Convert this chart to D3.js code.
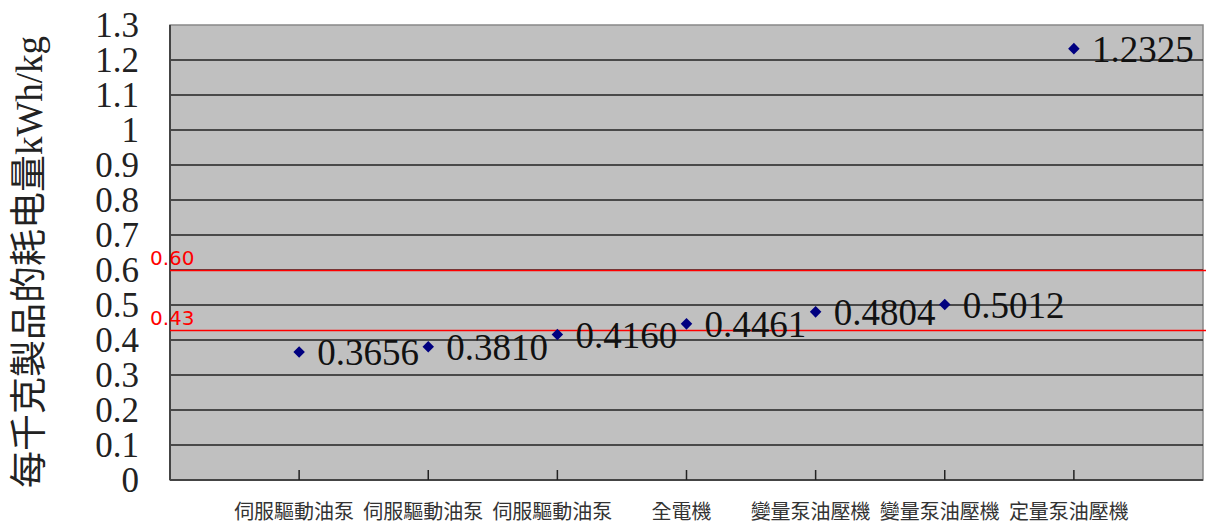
<!DOCTYPE html>
<html><head><meta charset="utf-8">
<script src="https://cdn.jsdelivr.net/npm/d3@7"></script>
<style>body{margin:0;background:#fff}svg{display:block}</style>
</head><body>
<script>
const categories = ["伺服驅動油泵","伺服驅動油泵","伺服驅動油泵","全電機","變量泵油壓機","變量泵油壓機","定量泵油壓機"];
const values = [0.3656, 0.3810, 0.4160, 0.4461, 0.4804, 0.5012, 1.2325];
const valueLabels = ["0.3656","0.3810","0.4160","0.4461","0.4804","0.5012","1.2325"];
const yTicks = [0,0.1,0.2,0.3,0.4,0.5,0.6,0.7,0.8,0.9,1,1.1,1.2,1.3];
const refLines = [0.60, 0.43];
const refLabels = ["0.60","0.43"];
const yTitle = "每千克製品的耗电量kWh/kg";

const W=1206,H=526;
const L=170,R=1203,T=25,B=480;
const svg=d3.select("body").append("svg").attr("width",W).attr("height",H);
const x=d3.scaleLinear().domain([0,categories.length+1]).range([L,R]);
const y=d3.scaleLinear().domain([0,1.3]).range([B,T]);

svg.append("rect").attr("x",L).attr("y",T).attr("width",R-L).attr("height",B-T)
  .attr("fill","#c0c0c0").attr("stroke","#888").attr("stroke-width",1.5);

// gridlines
svg.append("g").selectAll("line").data(yTicks.filter(d=>d>0&&d<1.3)).join("line")
  .attr("x1",L).attr("x2",R).attr("y1",d=>y(d)).attr("y2",d=>y(d))
  .attr("stroke","#222").attr("stroke-width",1.4);

// axes lines
svg.append("line").attr("x1",L).attr("x2",L).attr("y1",T).attr("y2",B).attr("stroke","#444").attr("stroke-width",2);
svg.append("line").attr("x1",L).attr("x2",R).attr("y1",B).attr("y2",B).attr("stroke","#444").attr("stroke-width",2);

// y tick labels
svg.append("g").selectAll("text").data(yTicks).join("text")
  .attr("x",139).attr("y",d=>y(d)).attr("dy","0.33em").attr("text-anchor","end")
  .attr("font-family","'Liberation Serif','DejaVu Serif',serif").attr("font-size",35)
  .attr("fill","#222").text(d=>d3.format("~g")(d));

// x ticks
const idx=d3.range(categories.length);
svg.append("g").selectAll("line").data(idx).join("line")
  .attr("x1",i=>x(i+1)).attr("x2",i=>x(i+1)).attr("y1",B).attr("y2",B-10)
  .attr("stroke","#222").attr("stroke-width",1.5);
svg.append("g").selectAll("text").data(idx).join("text")
  .attr("x",i=>x(i+1)-5).attr("y",519).attr("text-anchor","middle")
  .attr("font-family","'Noto Sans CJK TC',sans-serif").attr("font-size",20)
  .attr("fill","#333").text(i=>categories[i]);

// reference lines
svg.append("g").selectAll("line").data(refLines).join("line")
  .attr("x1",L).attr("x2",W).attr("y1",d=>Math.round(y(d))+0.5).attr("y2",d=>Math.round(y(d))+0.5)
  .attr("stroke","#ff0000").attr("stroke-width",1.3);
svg.append("g").selectAll("text").data(refLines).join("text")
  .attr("x",150).attr("y",d=>y(d)-5).attr("font-family","'DejaVu Sans',sans-serif").attr("font-size",20)
  .attr("fill","#ff0000").text((d,i)=>refLabels[i]);

// markers
const sym=d3.symbol().type(d3.symbolDiamond2).size(85);
svg.append("g").selectAll("path").data(idx).join("path")
  .attr("transform",i=>`translate(${x(i+1)},${y(values[i])})`)
  .attr("d",sym).attr("fill","#000080");
svg.append("g").selectAll("text").data(idx).join("text")
  .attr("x",i=>x(i+1)+18).attr("y",i=>y(values[i])).attr("dy","0.36em")
  .attr("font-family","'Liberation Serif','DejaVu Serif',serif").attr("font-size",37)
  .attr("fill","#111").text(i=>valueLabels[i]);

// y title
svg.append("text").attr("transform","translate(42,262) rotate(-90)").attr("text-anchor","middle")
  .attr("font-family","'Liberation Serif','Noto Sans CJK TC',serif").attr("font-size",37)
  .attr("fill","#222").text(yTitle);
</script>
</body></html>
